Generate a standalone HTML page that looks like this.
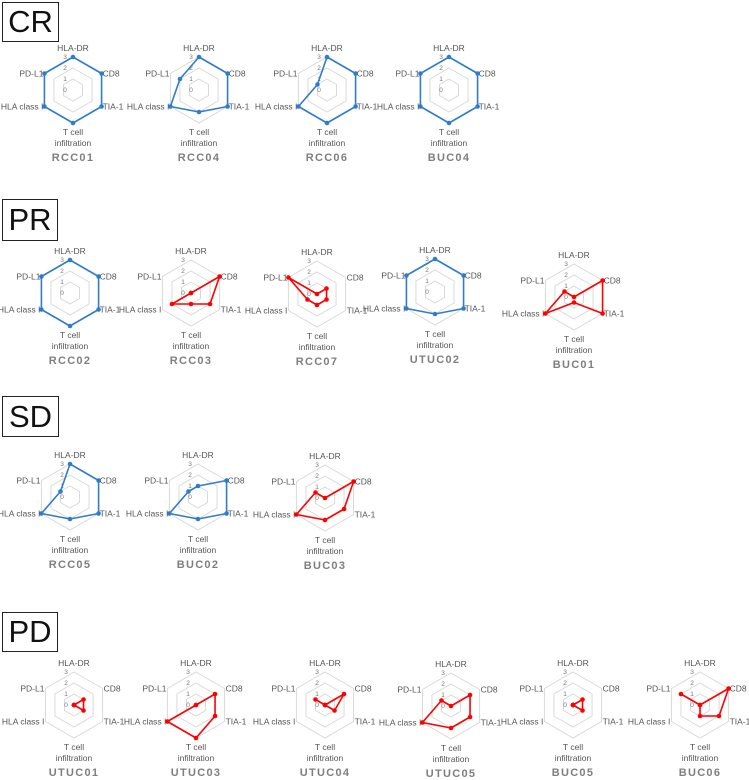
<!DOCTYPE html>
<html><head><meta charset="utf-8">
<style>
html,body{margin:0;padding:0;background:#fff;}
body{width:749px;height:780px;overflow:hidden;position:relative;font-family:"Liberation Sans","Noto Sans CJK JP",sans-serif;}
.box{position:absolute;border:1.5px solid #222;box-sizing:border-box;font-size:31px;color:#111;display:flex;align-items:center;justify-content:center;}
svg{position:absolute;left:0;top:0;}
</style></head>
<body>
<div class="box" style="left:2px;top:2px;width:57px;height:40px;">CR</div>
<div class="box" style="left:2px;top:199px;width:56px;height:42px;">PR</div>
<div class="box" style="left:2px;top:396px;width:57px;height:41px;">SD</div>
<div class="box" style="left:2px;top:612px;width:56px;height:40px;">PD</div>
<svg id="chart" width="749" height="780"></svg>
<script>
const axes = ["HLA-DR","CD8","TIA-1","T cell infiltration","HLA class I","PD-L1"];
const tickLabels = ["0","1","2","3"];
const patients = ["RCC01","RCC04","RCC06","BUC04","RCC02","RCC03","RCC07","UTUC02","BUC01","RCC05","BUC02","BUC03","UTUC01","UTUC03","UTUC04","UTUC05","BUC05","BUC06"];
const responseGroup = ["CR","CR","CR","CR","PR","PR","PR","PR","PR","SD","SD","SD","PD","PD","PD","PD","PD","PD"];
const seriesColor = ["blue","blue","blue","blue","blue","red","red","blue","red","blue","blue","red","red","red","red","red","red","red"];
const scoreRCC01 = [3,3,3,3,3,3];
const scoreRCC04 = [3,3,3,2,3,2];
const scoreRCC06 = [3,3,3,3,3,1];
const scoreBUC04 = [3,3,3,3,3,3];
const scoreRCC02 = [3,3,3,3,3,3];
const scoreRCC03 = [0,3,2,1,2,0];
const scoreRCC07 = [0,1,1,1,1,3];
const scoreUTUC02 = [3,3,3,2,3,3];
const scoreBUC01 = [0,3,3,0.5,3,1];
const scoreRCC05 = [3,3,3,2,3,1];
const scoreBUC02 = [1,3,3,2,3,1];
const scoreBUC03 = [0,3,2,2,3,1];
const scoreUTUC01 = [0,1,1,0,0,0];
const scoreUTUC03 = [0,2,2,3,3,0];
const scoreUTUC04 = [0,2,1,0,0,1];
const scoreUTUC05 = [0,2,2,2,3,1];
const scoreBUC05 = [0,1,1,0,0,0];
const scoreBUC06 = [0,3,2,1,0,2];
const scores = [scoreRCC01,scoreRCC04,scoreRCC06,scoreBUC04,scoreRCC02,scoreRCC03,scoreRCC07,scoreUTUC02,scoreBUC01,scoreRCC05,scoreBUC02,scoreBUC03,scoreUTUC01,scoreUTUC03,scoreUTUC04,scoreUTUC05,scoreBUC05,scoreBUC06];
const maxVal = 3;

const centers = [[73,90],[199,90],[327,90],[449,90],[70,293],[191,293],[317,294],[435,292],[574,297],[70,497],[198,497],[325,498],[74,705],[196,705],[325,705],[451,706],[573,705],[700,705]];
const R = 33;
const NS = "http://www.w3.org/2000/svg";
const svg = document.getElementById('chart');
function mk(tag, attrs, parent){const e=document.createElementNS(NS,tag);for(const k in attrs)e.setAttribute(k,attrs[k]);(parent||svg).appendChild(e);return e;}
function rScale(v){return v/maxVal*R;}
function pt(cx,cy,i,v){const a=-Math.PI/2+i*Math.PI/3;const r=rScale(v);return [cx+r*Math.cos(a),cy+r*Math.sin(a)];}

patients.forEach((name,k)=>{
  const [cx,cy]=centers[k];
  const vals=scores[k];
  const col = seriesColor[k]==="blue" ? "#2f7ccc" : "#ff0000";
  const g=mk('g',{});
  
  
  for(let t=1;t<=maxVal;t++){
    const p=[];for(let i=0;i<6;i++)p.push(pt(cx,cy,i,t).join(','));
    const ring=mk('polygon',{points:p.join(' '),fill:'none',stroke:'#d9d9d9','stroke-width':1},g);
    
    
  }
  tickLabels.forEach((lab,t)=>{
    const tx=mk('text',{x:cx-8,y:cy-rScale(t)+2,'font-size':6.5,fill:'#777','text-anchor':'middle'},g);
    tx.textContent=lab;
    
    
  });
  const fs=8.5, fc='#555';
  const lbl=(txt,x,y,anc)=>{const t=mk('text',{x:x,y:y,'font-size':fs,fill:fc,'text-anchor':anc},g);t.textContent=txt;return t;};
  lbl(axes[0],cx,cy-R-6,'middle');
  lbl(axes[1],cx+R*0.866+1,cy-R/2+3,'start');
  lbl(axes[2],cx+R*0.866+1,cy+R/2+3,'start');
  lbl("T cell",cx,cy+R+12,'middle');
  lbl("infiltration",cx,cy+R+23,'middle');
  lbl(axes[4],cx-R*0.866-1,cy+R/2+3,'end');
  lbl(axes[5],cx-R*0.866-1,cy-R/2+3,'end');
  const pts=vals.map((v,i)=>pt(cx,cy,i,v));
  const poly=mk('polygon',{points:pts.map(p=>p.join(',')).join(' '),fill:'none',stroke:col,'stroke-width':1.6,'stroke-linejoin':'round'},g);
  
  
  pts.forEach(p=>{
    const c=mk('circle',{cx:p[0],cy:p[1],r:2.3,fill:col},g);
    
    
  });
  const nm=mk('text',{x:cx,y:cy+R+38,'font-size':11,'font-weight':'bold',fill:'#7f7f7f','text-anchor':'middle','letter-spacing':'1.3'},g);
  nm.textContent=name;
  
  
});
</script>
</body></html>
